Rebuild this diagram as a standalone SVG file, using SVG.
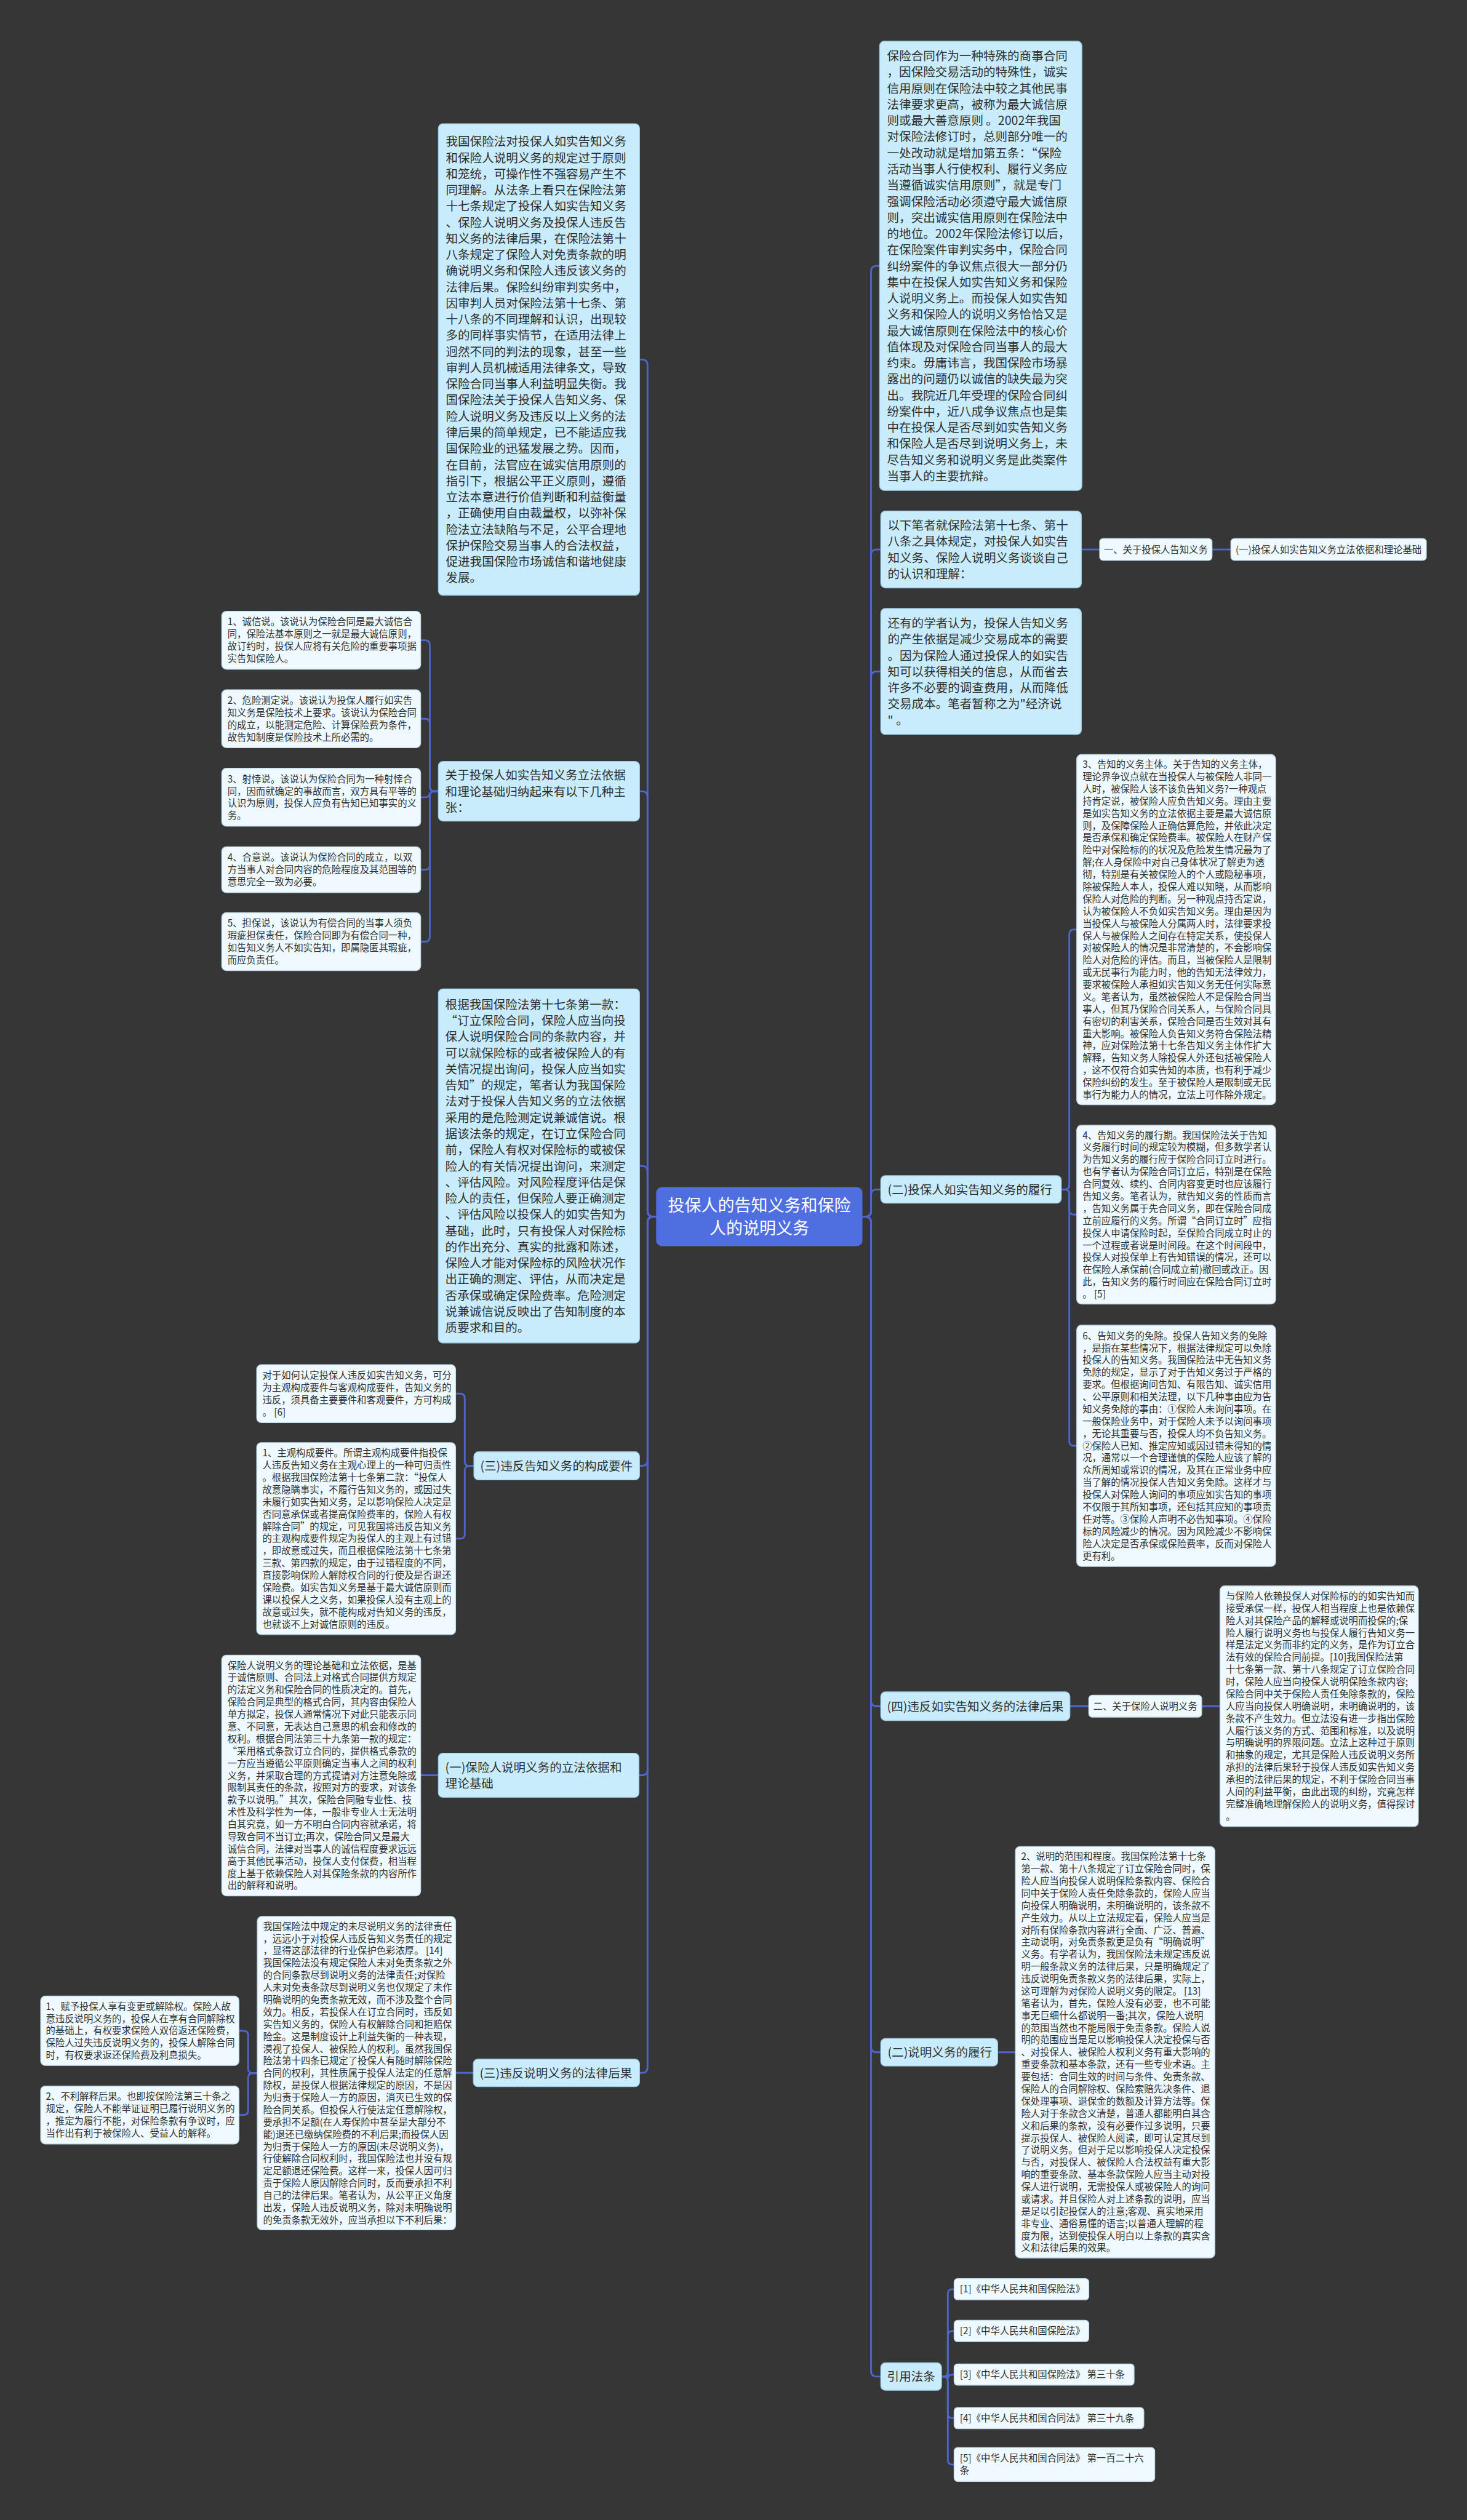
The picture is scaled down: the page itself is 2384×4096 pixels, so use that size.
<svg xmlns="http://www.w3.org/2000/svg" width="2384" height="4096" viewBox="0 0 2384 4096">
<style>
.l1{fill:#c8ecfb;stroke:#9ccbe2;stroke-width:1.5}
.lf{fill:#eefaff;stroke:#c4dbe6;stroke-width:1.5}
.rootbox{fill:#4f6ee0}
text{font-family:'Noto Sans CJK SC','Noto Sans',sans-serif;fill:#2f2f2f}
.t1{font-size:21px}
.t2{font-size:16.5px}
.rt{font-size:29px;fill:#ffffff}
.c{fill:none;stroke:#4f65cf;stroke-width:3;stroke-linecap:round}
</style>
<rect x="0" y="0" width="2384" height="4096" fill="#363636"/>
<g transform="scale(0.93125)">
<g id="connectors">
<path class="c" d="M1145 2123.5H1140Q1130 2123.5 1130 2113.5V637.5Q1130 627.5 1120 627.5H1116"/>
<path class="c" d="M1145 2123.5H1140Q1130 2123.5 1130 2113.5V1391Q1130 1381 1120 1381H1116"/>
<path class="c" d="M1145 2123.5H1140Q1130 2123.5 1130 2113.5V2045Q1130 2035 1120 2035H1116"/>
<path class="c" d="M1145 2123.5H1140Q1130 2123.5 1130 2133.5V2548.5Q1130 2558.5 1120 2558.5H1116"/>
<path class="c" d="M1145 2123.5H1140Q1130 2123.5 1130 2133.5V3088.5Q1130 3098.5 1120 3098.5H1115"/>
<path class="c" d="M1145 2123.5H1140Q1130 2123.5 1130 2133.5V3608Q1130 3618 1120 3618H1116"/>
<path class="c" d="M1505 2123.5H1510Q1520 2123.5 1520 2113.5V474Q1520 464 1530 464H1535"/>
<path class="c" d="M1505 2123.5H1510Q1520 2123.5 1520 2113.5V969Q1520 959 1530 959H1537"/>
<path class="c" d="M1505 2123.5H1510Q1520 2123.5 1520 2113.5V1182Q1520 1172 1530 1172H1537"/>
<path class="c" d="M1505 2123.5H1510Q1520 2123.5 1520 2113.5V2086Q1520 2076 1530 2076H1537"/>
<path class="c" d="M1505 2123.5H1510Q1520 2123.5 1520 2133.5V2968Q1520 2978 1530 2978H1537"/>
<path class="c" d="M1505 2123.5H1510Q1520 2123.5 1520 2133.5V3572Q1520 3582 1530 3582H1537"/>
<path class="c" d="M1505 2123.5H1510Q1520 2123.5 1520 2133.5V4138Q1520 4148 1530 4148H1537"/>
<path class="c" d="M1887 959H1919M2115 959H2148"/>
<path class="c" d="M1852 2076H1858Q1866 2076 1866 2068V1630.5Q1866 1622.5 1874 1622.5H1879"/>
<path class="c" d="M1852 2076H1858Q1866 2076 1866 2084V2112Q1866 2120 1874 2120H1879"/>
<path class="c" d="M1852 2076H1858Q1866 2076 1866 2084V2515.5Q1866 2523.5 1874 2523.5H1879"/>
<path class="c" d="M1867 2978H1900M2097 2978H2129"/>
<path class="c" d="M1741 3582H1772"/>
<path class="c" d="M1643 4148H1646Q1654 4148 1654 4140V4003.5Q1654 3995.5 1662 3995.5H1665"/>
<path class="c" d="M1643 4148H1646Q1654 4148 1654 4140V4076.5Q1654 4068.5 1662 4068.5H1665"/>
<path class="c" d="M1643 4148H1646Q1654 4148 1654 4140V4152.5Q1654 4144.5 1662 4144.5H1665"/>
<path class="c" d="M1643 4148H1646Q1654 4148 1654 4156V4212.5Q1654 4220.5 1662 4220.5H1665"/>
<path class="c" d="M1643 4148H1646Q1654 4148 1654 4156V4293.5Q1654 4301.5 1662 4301.5H1665"/>
<path class="c" d="M765 1381H758Q750 1381 750 1373V1125.5Q750 1117.5 742 1117.5H734"/>
<path class="c" d="M765 1381H758Q750 1381 750 1373V1262.5Q750 1254.5 742 1254.5H734"/>
<path class="c" d="M765 1381H758Q750 1381 750 1389V1383.5Q750 1391.5 742 1391.5H734"/>
<path class="c" d="M765 1381H758Q750 1381 750 1389V1510Q750 1518 742 1518H734"/>
<path class="c" d="M765 1381H758Q750 1381 750 1389V1635.5Q750 1643.5 742 1643.5H734"/>
<path class="c" d="M827 2558.5H819Q811 2558.5 811 2550.5V2440.5Q811 2432.5 803 2432.5H795"/>
<path class="c" d="M827 2558.5H819Q811 2558.5 811 2566.5V2677.5Q811 2685.5 803 2685.5H795"/>
<path class="c" d="M765 3098.5H734"/>
<path class="c" d="M826 3618H795"/>
<path class="c" d="M449 3618.5H441Q433 3618.5 433 3610.5V3552.5Q433 3544.5 425 3544.5H417"/>
<path class="c" d="M449 3618.5H441Q433 3618.5 433 3626.5V3683.5Q433 3691.5 425 3691.5H417"/>
</g>
<g id="root">
<rect class="rootbox" x="1145" y="2072" width="360" height="103" rx="10"/>
<text class="rt" x="1325" y="2114.5" text-anchor="middle">投保人的告知义务和保险</text>
<text class="rt" x="1325" y="2154.5" text-anchor="middle">人的说明义务</text>
</g>
<g id="r1">
<rect class="l1" x="1535" y="72" width="353" height="784" rx="8"/>
<text class="t1" y="105.4"><tspan x="1548">保险合同作为一种特殊的商事合同</tspan><tspan x="1548" dy="28.2">，因保险交易活动的特殊性，诚实</tspan><tspan x="1548" dy="28.2">信用原则在保险法中较之其他民事</tspan><tspan x="1548" dy="28.2">法律要求更高，被称为最大诚信原</tspan><tspan x="1548" dy="28.2">则或最大善意原则 。2002年我国</tspan><tspan x="1548" dy="28.2">对保险法修订时，总则部分唯一的</tspan><tspan x="1548" dy="28.2">一处改动就是增加第五条：“保险</tspan><tspan x="1548" dy="28.2">活动当事人行使权利、履行义务应</tspan><tspan x="1548" dy="28.2">当遵循诚实信用原则”，就是专门</tspan><tspan x="1548" dy="28.2">强调保险活动必须遵守最大诚信原</tspan><tspan x="1548" dy="28.2">则，突出诚实信用原则在保险法中</tspan><tspan x="1548" dy="28.2">的地位。2002年保险法修订以后，</tspan><tspan x="1548" dy="28.2">在保险案件审判实务中，保险合同</tspan><tspan x="1548" dy="28.2">纠纷案件的争议焦点很大一部分仍</tspan><tspan x="1548" dy="28.2">集中在投保人如实告知义务和保险</tspan><tspan x="1548" dy="28.2">人说明义务上。而投保人如实告知</tspan><tspan x="1548" dy="28.2">义务和保险人的说明义务恰恰又是</tspan><tspan x="1548" dy="28.2">最大诚信原则在保险法中的核心价</tspan><tspan x="1548" dy="28.2">值体现及对保险合同当事人的最大</tspan><tspan x="1548" dy="28.2">约束。毋庸讳言，我国保险市场暴</tspan><tspan x="1548" dy="28.2">露出的问题仍以诚信的缺失最为突</tspan><tspan x="1548" dy="28.2">出。我院近几年受理的保险合同纠</tspan><tspan x="1548" dy="28.2">纷案件中，近八成争议焦点也是集</tspan><tspan x="1548" dy="28.2">中在投保人是否尽到如实告知义务</tspan><tspan x="1548" dy="28.2">和保险人是否尽到说明义务上，未</tspan><tspan x="1548" dy="28.2">尽告知义务和说明义务是此类案件</tspan><tspan x="1548" dy="28.2">当事人的主要抗辩。</tspan></text>
</g>
<g id="r2">
<rect class="l1" x="1537" y="892" width="350" height="134" rx="8"/>
<text class="t1" y="924.7"><tspan x="1549">以下笔者就保险法第十七条、第十</tspan><tspan x="1549" dy="28.2">八条之具体规定，对投保人如实告</tspan><tspan x="1549" dy="28.2">知义务、保险人说明义务谈谈自己</tspan><tspan x="1549" dy="28.2">的认识和理解：</tspan></text>
</g>
<g id="r2a">
<rect class="lf" x="1919" y="940" width="196" height="38" rx="6"/>
<text class="t2" x="2017" y="965" text-anchor="middle">一、关于投保人告知义务</text>
</g>
<g id="r2b">
<rect class="lf" x="2148" y="940" width="341" height="38" rx="6"/>
<text class="t2" x="2318.5" y="965" text-anchor="middle">(一)投保人如实告知义务立法依据和理论基础</text>
</g>
<g id="r3">
<rect class="l1" x="1537" y="1062" width="350" height="220" rx="8"/>
<text class="t1" y="1095.4"><tspan x="1549">还有的学者认为，投保人告知义务</tspan><tspan x="1549" dy="28.2">的产生依据是减少交易成本的需要</tspan><tspan x="1549" dy="28.2">。因为保险人通过投保人的如实告</tspan><tspan x="1549" dy="28.2">知可以获得相关的信息，从而省去</tspan><tspan x="1549" dy="28.2">许多不必要的调查费用，从而降低</tspan><tspan x="1549" dy="28.2">交易成本。笔者暂称之为"经济说</tspan><tspan x="1549" dy="28.2">" 。</tspan></text>
</g>
<g id="r4">
<rect class="l1" x="1537" y="2052" width="315" height="48" rx="8"/>
<text class="t1" x="1549" y="2084">(二)投保人如实告知义务的履行</text>
</g>
<g id="r4a">
<rect class="lf" x="1879" y="1317" width="347" height="611" rx="8"/>
<text class="t2" y="1340.3"><tspan x="1889">3、告知的义务主体。关于告知的义务主体，</tspan><tspan x="1889" dy="21.35">理论界争议点就在当投保人与被保险人非同一</tspan><tspan x="1889" dy="21.35">人时，被保险人该不该负告知义务?一种观点</tspan><tspan x="1889" dy="21.35">持肯定说，被保险人应负告知义务。理由主要</tspan><tspan x="1889" dy="21.35">是如实告知义务的立法依据主要是最大诚信原</tspan><tspan x="1889" dy="21.35">则，及保障保险人正确估算危险，并依此决定</tspan><tspan x="1889" dy="21.35">是否承保和确定保险费率。被保险人在财产保</tspan><tspan x="1889" dy="21.35">险中对保险标的的状况及危险发生情况最为了</tspan><tspan x="1889" dy="21.35">解;在人身保险中对自己身体状况了解更为透</tspan><tspan x="1889" dy="21.35">彻，特别是有关被保险人的个人或隐秘事项，</tspan><tspan x="1889" dy="21.35">除被保险人本人，投保人难以知晓，从而影响</tspan><tspan x="1889" dy="21.35">保险人对危险的判断。另一种观点持否定说，</tspan><tspan x="1889" dy="21.35">认为被保险人不负如实告知义务。理由是因为</tspan><tspan x="1889" dy="21.35">当投保人与被保险人分属两人时，法律要求投</tspan><tspan x="1889" dy="21.35">保人与被保险人之间存在特定关系，使投保人</tspan><tspan x="1889" dy="21.35">对被保险人的情况是非常清楚的，不会影响保</tspan><tspan x="1889" dy="21.35">险人对危险的评估。而且，当被保险人是限制</tspan><tspan x="1889" dy="21.35">或无民事行为能力时，他的告知无法律效力，</tspan><tspan x="1889" dy="21.35">要求被保险人承担如实告知义务无任何实际意</tspan><tspan x="1889" dy="21.35">义。笔者认为，虽然被保险人不是保险合同当</tspan><tspan x="1889" dy="21.35">事人，但其乃保险合同关系人，与保险合同具</tspan><tspan x="1889" dy="21.35">有密切的利害关系，保险合同是否生效对其有</tspan><tspan x="1889" dy="21.35">重大影响。被保险人负告知义务符合保险法精</tspan><tspan x="1889" dy="21.35">神，应对保险法第十七条告知义务主体作扩大</tspan><tspan x="1889" dy="21.35">解释，告知义务人除投保人外还包括被保险人</tspan><tspan x="1889" dy="21.35">，这不仅符合如实告知的本质，也有利于减少</tspan><tspan x="1889" dy="21.35">保险纠纷的发生。至于被保险人是限制或无民</tspan><tspan x="1889" dy="21.35">事行为能力人的情况，立法上可作除外规定。</tspan></text>
</g>
<g id="r4b">
<rect class="lf" x="1879" y="1964" width="347" height="312" rx="8"/>
<text class="t2" y="1987.2"><tspan x="1889">4、告知义务的履行期。我国保险法关于告知</tspan><tspan x="1889" dy="21.35">义务履行时间的规定较为模糊，但多数学者认</tspan><tspan x="1889" dy="21.35">为告知义务的履行应于保险合同订立时进行。</tspan><tspan x="1889" dy="21.35">也有学者认为保险合同订立后，特别是在保险</tspan><tspan x="1889" dy="21.35">合同复效、续约、合同内容变更时也应该履行</tspan><tspan x="1889" dy="21.35">告知义务。笔者认为，就告知义务的性质而言</tspan><tspan x="1889" dy="21.35">，告知义务属于先合同义务，即在保险合同成</tspan><tspan x="1889" dy="21.35">立前应履行的义务。所谓“合同订立时”应指</tspan><tspan x="1889" dy="21.35">投保人申请保险时起，至保险合同成立时止的</tspan><tspan x="1889" dy="21.35">一个过程或者说是时间段。在这个时间段中，</tspan><tspan x="1889" dy="21.35">投保人对投保单上有告知错误的情况，还可以</tspan><tspan x="1889" dy="21.35">在保险人承保前(合同成立前)撤回或改正。因</tspan><tspan x="1889" dy="21.35">此，告知义务的履行时间应在保险合同订立时</tspan><tspan x="1889" dy="21.35">。 [5]</tspan></text>
</g>
<g id="r4c">
<rect class="lf" x="1879" y="2313" width="347" height="421" rx="8"/>
<text class="t2" y="2337.35"><tspan x="1889">6、告知义务的免除。投保人告知义务的免除</tspan><tspan x="1889" dy="21.35">，是指在某些情况下，根据法律规定可以免除</tspan><tspan x="1889" dy="21.35">投保人的告知义务。我国保险法中无告知义务</tspan><tspan x="1889" dy="21.35">免除的规定，显示了对于告知义务过于严格的</tspan><tspan x="1889" dy="21.35">要求。但根据询问告知、有限告知、诚实信用</tspan><tspan x="1889" dy="21.35">、公平原则和相关法理，以下几种事由应为告</tspan><tspan x="1889" dy="21.35">知义务免除的事由：①保险人未询问事项。在</tspan><tspan x="1889" dy="21.35">一般保险业务中，对于保险人未予以询问事项</tspan><tspan x="1889" dy="21.35">，无论其重要与否，投保人均不负告知义务。</tspan><tspan x="1889" dy="21.35">②保险人已知、推定应知或因过错未得知的情</tspan><tspan x="1889" dy="21.35">况，通常以一个合理谨慎的保险人应该了解的</tspan><tspan x="1889" dy="21.35">众所周知或常识的情况，及其在正常业务中应</tspan><tspan x="1889" dy="21.35">当了解的情况投保人告知义务免除。这样才与</tspan><tspan x="1889" dy="21.35">投保人对保险人询问的事项应如实告知的事项</tspan><tspan x="1889" dy="21.35">不仅限于其所知事项，还包括其应知的事项责</tspan><tspan x="1889" dy="21.35">任对等。③保险人声明不必告知事项。④保险</tspan><tspan x="1889" dy="21.35">标的风险减少的情况。因为风险减少不影响保</tspan><tspan x="1889" dy="21.35">险人决定是否承保或保险费率，反而对保险人</tspan><tspan x="1889" dy="21.35">更有利。</tspan></text>
</g>
<g id="r5">
<rect class="l1" x="1537" y="2953" width="330" height="50" rx="8"/>
<text class="t1" x="1548" y="2986">(四)违反如实告知义务的法律后果</text>
</g>
<g id="r5a">
<rect class="lf" x="1900" y="2959" width="197" height="38" rx="6"/>
<text class="t2" x="1998.5" y="2984" text-anchor="middle">二、关于保险人说明义务</text>
</g>
<g id="r5b">
<rect class="lf" x="2129" y="2768" width="346" height="420" rx="8"/>
<text class="t2" y="2791.85"><tspan x="2139">与保险人依赖投保人对保险标的的如实告知而</tspan><tspan x="2139" dy="21.35">接受承保一样，投保人相当程度上也是依赖保</tspan><tspan x="2139" dy="21.35">险人对其保险产品的解释或说明而投保的;保</tspan><tspan x="2139" dy="21.35">险人履行说明义务也与投保人履行告知义务一</tspan><tspan x="2139" dy="21.35">样是法定义务而非约定的义务，是作为订立合</tspan><tspan x="2139" dy="21.35">法有效的保险合同前提。[10]我国保险法第</tspan><tspan x="2139" dy="21.35">十七条第一款、第十八条规定了订立保险合同</tspan><tspan x="2139" dy="21.35">时，保险人应当向投保人说明保险条款内容;</tspan><tspan x="2139" dy="21.35">保险合同中关于保险人责任免除条款的，保险</tspan><tspan x="2139" dy="21.35">人应当向投保人明确说明，未明确说明的，该</tspan><tspan x="2139" dy="21.35">条款不产生效力。但立法没有进一步指出保险</tspan><tspan x="2139" dy="21.35">人履行该义务的方式、范围和标准，以及说明</tspan><tspan x="2139" dy="21.35">与明确说明的界限问题。立法上这种过于原则</tspan><tspan x="2139" dy="21.35">和抽象的规定，尤其是保险人违反说明义务所</tspan><tspan x="2139" dy="21.35">承担的法律后果轻于投保人违反如实告知义务</tspan><tspan x="2139" dy="21.35">承担的法律后果的规定，不利于保险合同当事</tspan><tspan x="2139" dy="21.35">人间的利益平衡，由此出现的纠纷，究竟怎样</tspan><tspan x="2139" dy="21.35">完整准确地理解保险人的说明义务，值得探讨</tspan><tspan x="2139" dy="21.35">。</tspan></text>
</g>
<g id="r6">
<rect class="l1" x="1537" y="3558" width="204" height="48" rx="8"/>
<text class="t1" x="1549" y="3590">(二)说明义务的履行</text>
</g>
<g id="r6a">
<rect class="lf" x="1772" y="3223" width="348" height="718" rx="8"/>
<text class="t2" y="3246.4"><tspan x="1782">2、说明的范围和程度。我国保险法第十七条</tspan><tspan x="1782" dy="21.35">第一款、第十八条规定了订立保险合同时，保</tspan><tspan x="1782" dy="21.35">险人应当向投保人说明保险条款内容、保险合</tspan><tspan x="1782" dy="21.35">同中关于保险人责任免除条款的，保险人应当</tspan><tspan x="1782" dy="21.35">向投保人明确说明，未明确说明的，该条款不</tspan><tspan x="1782" dy="21.35">产生效力。从以上立法规定看，保险人应当是</tspan><tspan x="1782" dy="21.35">对所有保险条款内容进行全面、广泛、普遍、</tspan><tspan x="1782" dy="21.35">主动说明，对免责条款更是负有“明确说明”</tspan><tspan x="1782" dy="21.35">义务。有学者认为，我国保险法未规定违反说</tspan><tspan x="1782" dy="21.35">明一般条款义务的法律后果，只是明确规定了</tspan><tspan x="1782" dy="21.35">违反说明免责条款义务的法律后果，实际上，</tspan><tspan x="1782" dy="21.35">这可理解为对保险人说明义务的限定。 [13]</tspan><tspan x="1782" dy="21.35">笔者认为，首先，保险人没有必要，也不可能</tspan><tspan x="1782" dy="21.35">事无巨细什么都说明一番;其次，保险人说明</tspan><tspan x="1782" dy="21.35">的范围当然也不能局限于免责条款。保险人说</tspan><tspan x="1782" dy="21.35">明的范围应当是足以影响投保人决定投保与否</tspan><tspan x="1782" dy="21.35">、对投保人、被保险人权利义务有重大影响的</tspan><tspan x="1782" dy="21.35">重要条款和基本条款，还有一些专业术语。主</tspan><tspan x="1782" dy="21.35">要包括：合同生效的时间与条件、免责条款、</tspan><tspan x="1782" dy="21.35">保险人的合同解除权、保险索赔先决条件、退</tspan><tspan x="1782" dy="21.35">保处理事项、退保金的数额及计算方法等。保</tspan><tspan x="1782" dy="21.35">险人对于条款含义清楚，普通人都能明白其含</tspan><tspan x="1782" dy="21.35">义和后果的条款，没有必要作过多说明，只要</tspan><tspan x="1782" dy="21.35">提示投保人、被保险人阅读，即可认定其尽到</tspan><tspan x="1782" dy="21.35">了说明义务。但对于足以影响投保人决定投保</tspan><tspan x="1782" dy="21.35">与否，对投保人、被保险人合法权益有重大影</tspan><tspan x="1782" dy="21.35">响的重要条款、基本条款保险人应当主动对投</tspan><tspan x="1782" dy="21.35">保人进行说明，无需投保人或被保险人的询问</tspan><tspan x="1782" dy="21.35">或请求。并且保险人对上述条款的说明，应当</tspan><tspan x="1782" dy="21.35">是足以引起投保人的注意;客观、真实地采用</tspan><tspan x="1782" dy="21.35">非专业、通俗易懂的语言;以普通人理解的程</tspan><tspan x="1782" dy="21.35">度为限，达到使投保人明白以上条款的真实含</tspan><tspan x="1782" dy="21.35">义和法律后果的效果。</tspan></text>
</g>
<g id="r7">
<rect class="l1" x="1537" y="4124" width="106" height="48" rx="8"/>
<text class="t1" x="1590" y="4156" text-anchor="middle">引用法条</text>
</g>
<g id="ref1">
<rect class="lf" x="1665" y="3977" width="235" height="37" rx="6"/>
<text class="t2" x="1675" y="4001.5">[1]《中华人民共和国保险法》</text>
</g>
<g id="ref2">
<rect class="lf" x="1665" y="4050" width="235" height="37" rx="6"/>
<text class="t2" x="1675" y="4074.5">[2]《中华人民共和国保险法》</text>
</g>
<g id="ref3">
<rect class="lf" x="1665" y="4126" width="314" height="37" rx="6"/>
<text class="t2" x="1675" y="4150.5">[3]《中华人民共和国保险法》 第三十条</text>
</g>
<g id="ref4">
<rect class="lf" x="1665" y="4202" width="331" height="37" rx="6"/>
<text class="t2" x="1675" y="4226.5">[4]《中华人民共和国合同法》 第三十九条</text>
</g>
<g id="ref5">
<rect class="lf" x="1665" y="4272" width="350" height="59" rx="6"/>
<text class="t2" y="4296.8"><tspan x="1675">[5]《中华人民共和国合同法》 第一百二十六</tspan><tspan x="1675" dy="21.35">条</tspan></text>
</g>
<g id="l1">
<rect class="l1" x="765" y="216" width="351" height="823" rx="8"/>
<text class="t1" y="254.8"><tspan x="778">我国保险法对投保人如实告知义务</tspan><tspan x="778" dy="28.2">和保险人说明义务的规定过于原则</tspan><tspan x="778" dy="28.2">和笼统，可操作性不强容易产生不</tspan><tspan x="778" dy="28.2">同理解。从法条上看只在保险法第</tspan><tspan x="778" dy="28.2">十七条规定了投保人如实告知义务</tspan><tspan x="778" dy="28.2">、保险人说明义务及投保人违反告</tspan><tspan x="778" dy="28.2">知义务的法律后果，在保险法第十</tspan><tspan x="778" dy="28.2">八条规定了保险人对免责条款的明</tspan><tspan x="778" dy="28.2">确说明义务和保险人违反该义务的</tspan><tspan x="778" dy="28.2">法律后果。保险纠纷审判实务中，</tspan><tspan x="778" dy="28.2">因审判人员对保险法第十七条、第</tspan><tspan x="778" dy="28.2">十八条的不同理解和认识，出现较</tspan><tspan x="778" dy="28.2">多的同样事实情节，在适用法律上</tspan><tspan x="778" dy="28.2">迥然不同的判法的现象，甚至一些</tspan><tspan x="778" dy="28.2">审判人员机械适用法律条文，导致</tspan><tspan x="778" dy="28.2">保险合同当事人利益明显失衡。我</tspan><tspan x="778" dy="28.2">国保险法关于投保人告知义务、保</tspan><tspan x="778" dy="28.2">险人说明义务及违反以上义务的法</tspan><tspan x="778" dy="28.2">律后果的简单规定，已不能适应我</tspan><tspan x="778" dy="28.2">国保险业的迅猛发展之势。因而，</tspan><tspan x="778" dy="28.2">在目前，法官应在诚实信用原则的</tspan><tspan x="778" dy="28.2">指引下，根据公平正义原则，遵循</tspan><tspan x="778" dy="28.2">立法本意进行价值判断和利益衡量</tspan><tspan x="778" dy="28.2">，正确使用自由裁量权，以弥补保</tspan><tspan x="778" dy="28.2">险法立法缺陷与不足，公平合理地</tspan><tspan x="778" dy="28.2">保护保险交易当事人的合法权益，</tspan><tspan x="778" dy="28.2">促进我国保险市场诚信和谐地健康</tspan><tspan x="778" dy="28.2">发展。</tspan></text>
</g>
<g id="l2">
<rect class="l1" x="765" y="1329" width="351" height="104" rx="8"/>
<text class="t1" y="1360.8"><tspan x="777">关于投保人如实告知义务立法依据</tspan><tspan x="777" dy="28.2">和理论基础归纳起来有以下几种主</tspan><tspan x="777" dy="28.2">张：</tspan></text>
</g>
<g id="l2a">
<rect class="lf" x="387" y="1067" width="347" height="101" rx="8"/>
<text class="t2" y="1091.5"><tspan x="397">1、诚信说。该说认为保险合同是最大诚信合</tspan><tspan x="397" dy="21.35">同，保险法基本原则之一就是最大诚信原则，</tspan><tspan x="397" dy="21.35">故订约时，投保人应将有关危险的重要事项据</tspan><tspan x="397" dy="21.35">实告知保险人。</tspan></text>
</g>
<g id="l2b">
<rect class="lf" x="387" y="1204" width="347" height="101" rx="8"/>
<text class="t2" y="1228.5"><tspan x="397">2、危险测定说。该说认为投保人履行如实告</tspan><tspan x="397" dy="21.35">知义务是保险技术上要求。该说认为保险合同</tspan><tspan x="397" dy="21.35">的成立，以能测定危险、计算保险费为条件，</tspan><tspan x="397" dy="21.35">故告知制度是保险技术上所必需的。</tspan></text>
</g>
<g id="l2c">
<rect class="lf" x="387" y="1341" width="347" height="101" rx="8"/>
<text class="t2" y="1365.5"><tspan x="397">3、射悻说。该说认为保险合同为一种射悻合</tspan><tspan x="397" dy="21.35">同，因而就确定的事故而言，双方具有平等的</tspan><tspan x="397" dy="21.35">认识为原则，投保人应负有告知已知事实的义</tspan><tspan x="397" dy="21.35">务。</tspan></text>
</g>
<g id="l2d">
<rect class="lf" x="387" y="1478" width="347" height="80" rx="8"/>
<text class="t2" y="1502.65"><tspan x="397">4、合意说。该说认为保险合同的成立，以双</tspan><tspan x="397" dy="21.35">方当事人对合同内容的危险程度及其范围等的</tspan><tspan x="397" dy="21.35">意思完全一致为必要。</tspan></text>
</g>
<g id="l2e">
<rect class="lf" x="387" y="1593" width="347" height="101" rx="8"/>
<text class="t2" y="1617.5"><tspan x="397">5、担保说，该说认为有偿合同的当事人须负</tspan><tspan x="397" dy="21.35">瑕疵担保责任，保险合同即为有偿合同一种，</tspan><tspan x="397" dy="21.35">如告知义务人不如实告知，即属隐匿其瑕疵，</tspan><tspan x="397" dy="21.35">而应负责任。</tspan></text>
</g>
<g id="l3">
<rect class="l1" x="765" y="1726" width="351" height="618" rx="8"/>
<text class="t1" y="1761"><tspan x="777">根据我国保险法第十七条第一款：</tspan><tspan x="777" dy="28.2">“订立保险合同，保险人应当向投</tspan><tspan x="777" dy="28.2">保人说明保险合同的条款内容，并</tspan><tspan x="777" dy="28.2">可以就保险标的或者被保险人的有</tspan><tspan x="777" dy="28.2">关情况提出询问，投保人应当如实</tspan><tspan x="777" dy="28.2">告知”的规定，笔者认为我国保险</tspan><tspan x="777" dy="28.2">法对于投保人告知义务的立法依据</tspan><tspan x="777" dy="28.2">采用的是危险测定说兼诚信说。根</tspan><tspan x="777" dy="28.2">据该法条的规定，在订立保险合同</tspan><tspan x="777" dy="28.2">前，保险人有权对保险标的或被保</tspan><tspan x="777" dy="28.2">险人的有关情况提出询问，来测定</tspan><tspan x="777" dy="28.2">、评估风险。对风险程度评估是保</tspan><tspan x="777" dy="28.2">险人的责任，但保险人要正确测定</tspan><tspan x="777" dy="28.2">、评估风险以投保人的如实告知为</tspan><tspan x="777" dy="28.2">基础，此时，只有投保人对保险标</tspan><tspan x="777" dy="28.2">的作出充分、真实的批露和陈述，</tspan><tspan x="777" dy="28.2">保险人才能对保险标的风险状况作</tspan><tspan x="777" dy="28.2">出正确的测定、评估，从而决定是</tspan><tspan x="777" dy="28.2">否承保或确定保险费率。危险测定</tspan><tspan x="777" dy="28.2">说兼诚信说反映出了告知制度的本</tspan><tspan x="777" dy="28.2">质要求和目的。</tspan></text>
</g>
<g id="l4">
<rect class="l1" x="827" y="2534" width="289" height="49" rx="8"/>
<text class="t1" x="838" y="2566.5">(三)违反告知义务的构成要件</text>
</g>
<g id="l4a">
<rect class="lf" x="448" y="2382" width="347" height="101" rx="8"/>
<text class="t2" y="2406.5"><tspan x="458">对于如何认定投保人违反如实告知义务，可分</tspan><tspan x="458" dy="21.35">为主观构成要件与客观构成要件，告知义务的</tspan><tspan x="458" dy="21.35">违反，须具备主要要件和客观要件，方可构成</tspan><tspan x="458" dy="21.35">。 [6]</tspan></text>
</g>
<g id="l4b">
<rect class="lf" x="448" y="2518" width="347" height="335" rx="8"/>
<text class="t2" y="2542"><tspan x="458">1、主观构成要件。所谓主观构成要件指投保</tspan><tspan x="458" dy="21.35">人违反告知义务在主观心理上的一种可归责性</tspan><tspan x="458" dy="21.35">。根据我国保险法第十七条第二款：“投保人</tspan><tspan x="458" dy="21.35">故意隐瞒事实，不履行告知义务的，或因过失</tspan><tspan x="458" dy="21.35">未履行如实告知义务，足以影响保险人决定是</tspan><tspan x="458" dy="21.35">否同意承保或者提高保险费率的，保险人有权</tspan><tspan x="458" dy="21.35">解除合同”的规定，可见我国将违反告知义务</tspan><tspan x="458" dy="21.35">的主观构成要件规定为投保人的主观上有过错</tspan><tspan x="458" dy="21.35">，即故意或过失，而且根据保险法第十七条第</tspan><tspan x="458" dy="21.35">三款、第四款的规定，由于过错程度的不同，</tspan><tspan x="458" dy="21.35">直接影响保险人解除权合同的行使及是否退还</tspan><tspan x="458" dy="21.35">保险费。如实告知义务是基于最大诚信原则而</tspan><tspan x="458" dy="21.35">课以投保人之义务，如果投保人没有主观上的</tspan><tspan x="458" dy="21.35">故意或过失，就不能构成对告知义务的违反，</tspan><tspan x="458" dy="21.35">也就谈不上对诚信原则的违反。</tspan></text>
</g>
<g id="l5">
<rect class="l1" x="765" y="3060" width="350" height="77" rx="8"/>
<text class="t1" y="3092.4"><tspan x="777">(一)保险人说明义务的立法依据和</tspan><tspan x="777" dy="28.2">理论基础</tspan></text>
</g>
<g id="l5a">
<rect class="lf" x="387" y="2889" width="347" height="420" rx="8"/>
<text class="t2" y="2912.85"><tspan x="397">保险人说明义务的理论基础和立法依据，是基</tspan><tspan x="397" dy="21.35">于诚信原则、合同法上对格式合同提供方规定</tspan><tspan x="397" dy="21.35">的法定义务和保险合同的性质决定的。首先，</tspan><tspan x="397" dy="21.35">保险合同是典型的格式合同，其内容由保险人</tspan><tspan x="397" dy="21.35">单方拟定，投保人通常情况下对此只能表示同</tspan><tspan x="397" dy="21.35">意、不同意，无表达自己意思的机会和修改的</tspan><tspan x="397" dy="21.35">权利。根据合同法第三十九条第一款的规定：</tspan><tspan x="397" dy="21.35">“采用格式条款订立合同的，提供格式条款的</tspan><tspan x="397" dy="21.35">一方应当遵循公平原则确定当事人之间的权利</tspan><tspan x="397" dy="21.35">义务，并采取合理的方式提请对方注意免除或</tspan><tspan x="397" dy="21.35">限制其责任的条款，按照对方的要求，对该条</tspan><tspan x="397" dy="21.35">款予以说明。”其次，保险合同融专业性、技</tspan><tspan x="397" dy="21.35">术性及科学性为一体，一般非专业人士无法明</tspan><tspan x="397" dy="21.35">白其究竟，如一方不明白合同内容就承诺，将</tspan><tspan x="397" dy="21.35">导致合同不当订立;再次，保险合同又是最大</tspan><tspan x="397" dy="21.35">诚信合同，法律对当事人的诚信程度要求远远</tspan><tspan x="397" dy="21.35">高于其他民事活动，投保人支付保费，相当程</tspan><tspan x="397" dy="21.35">度上基于依赖保险人对其保险条款的内容所作</tspan><tspan x="397" dy="21.35">出的解释和说明。</tspan></text>
</g>
<g id="l6">
<rect class="l1" x="826" y="3594" width="290" height="48" rx="8"/>
<text class="t1" x="837" y="3626">(三)违反说明义务的法律后果</text>
</g>
<g id="l6a">
<rect class="lf" x="449" y="3345" width="346" height="547" rx="8"/>
<text class="t2" y="3368.3"><tspan x="459">我国保险法中规定的未尽说明义务的法律责任</tspan><tspan x="459" dy="21.35">，远远小于对投保人违反告知义务责任的规定</tspan><tspan x="459" dy="21.35">，显得这部法律的行业保护色彩浓厚。 [14]</tspan><tspan x="459" dy="21.35">我国保险法没有规定保险人未对免责条款之外</tspan><tspan x="459" dy="21.35">的合同条款尽到说明义务的法律责任;对保险</tspan><tspan x="459" dy="21.35">人未对免责条款尽到说明义务也仅规定了未作</tspan><tspan x="459" dy="21.35">明确说明的免责条款无效，而不涉及整个合同</tspan><tspan x="459" dy="21.35">效力。相反，若投保人在订立合同时，违反如</tspan><tspan x="459" dy="21.35">实告知义务的，保险人有权解除合同和拒赔保</tspan><tspan x="459" dy="21.35">险金。这是制度设计上利益失衡的一种表现，</tspan><tspan x="459" dy="21.35">漠视了投保人、被保险人的权利。虽然我国保</tspan><tspan x="459" dy="21.35">险法第十四条已规定了投保人有随时解除保险</tspan><tspan x="459" dy="21.35">合同的权利，其性质属于投保人法定的任意解</tspan><tspan x="459" dy="21.35">除权，是投保人根据法律规定的原因，不是因</tspan><tspan x="459" dy="21.35">为归责于保险人一方的原因，消灭已生效的保</tspan><tspan x="459" dy="21.35">险合同关系。但投保人行使法定任意解除权，</tspan><tspan x="459" dy="21.35">要承担不足额(在人寿保险中甚至是大部分不</tspan><tspan x="459" dy="21.35">能)退还已缴纳保险费的不利后果;而投保人因</tspan><tspan x="459" dy="21.35">为归责于保险人一方的原因(未尽说明义务)，</tspan><tspan x="459" dy="21.35">行使解除合同权利时，我国保险法也并没有规</tspan><tspan x="459" dy="21.35">定足额退还保险费。这样一来，投保人因可归</tspan><tspan x="459" dy="21.35">责于保险人原因解除合同时，反而要承担不利</tspan><tspan x="459" dy="21.35">自己的法律后果。笔者认为，从公平正义角度</tspan><tspan x="459" dy="21.35">出发，保险人违反说明义务，除对未明确说明</tspan><tspan x="459" dy="21.35">的免责条款无效外，应当承担以下不利后果：</tspan></text>
</g>
<g id="l6b">
<rect class="lf" x="71" y="3484" width="346" height="121" rx="8"/>
<text class="t2" y="3507.8"><tspan x="80">1、赋予投保人享有变更或解除权。保险人故</tspan><tspan x="80" dy="21.35">意违反说明义务的，投保人在享有合同解除权</tspan><tspan x="80" dy="21.35">的基础上，有权要求保险人双倍返还保险费，</tspan><tspan x="80" dy="21.35">保险人过失违反说明义务的，投保人解除合同</tspan><tspan x="80" dy="21.35">时，有权要求返还保险费及利息损失。</tspan></text>
</g>
<g id="l6c">
<rect class="lf" x="71" y="3641" width="346" height="101" rx="8"/>
<text class="t2" y="3665.5"><tspan x="80">2、不利解释后果。也即按保险法第三十条之</tspan><tspan x="80" dy="21.35">规定，保险人不能举证证明已履行说明义务的</tspan><tspan x="80" dy="21.35">，推定为履行不能，对保险条款有争议时，应</tspan><tspan x="80" dy="21.35">当作出有利于被保险人、受益人的解释。</tspan></text>
</g>
</g>
</svg>
